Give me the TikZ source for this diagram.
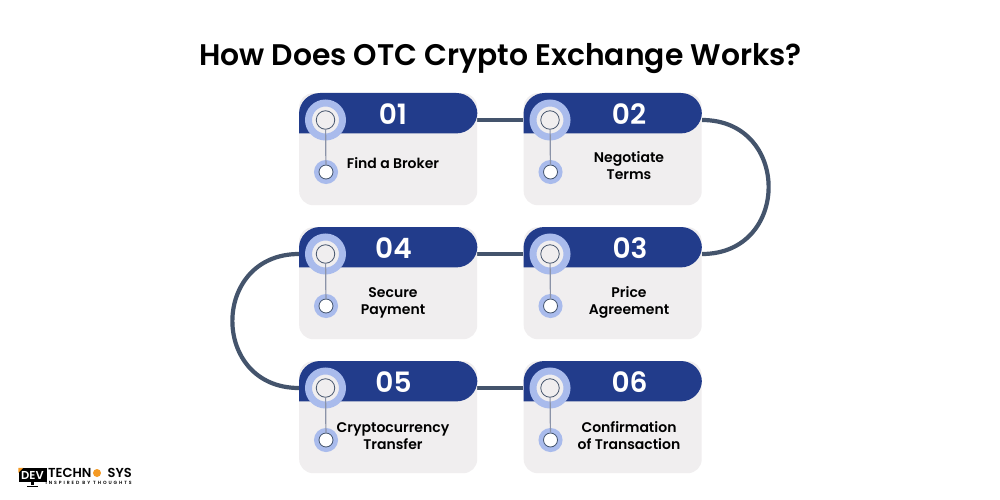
\documentclass[tikz,border=0pt]{standalone}
\usepackage{fontspec}
\setmainfont{Poppins}
\newfontfamily\titlefont{Poppins SemiBold}
\newfontfamily\tagfont[LetterSpace=42]{Poppins SemiBold}
\usetikzlibrary{calc}
\definecolor{headblue}{HTML}{223C8B}
\definecolor{cardgray}{HTML}{F0EEEF}
\definecolor{ringblue}{HTML}{A9BBEC}
\definecolor{linkgray}{HTML}{44546C}
\definecolor{stemgray}{HTML}{8B93A8}
\definecolor{logoorange}{HTML}{F59A23}
\tikzset{
  cardbody/.style={fill=cardgray, rounded corners=14pt, minimum width=178pt, minimum height=112pt, inner sep=0pt},
  headbox/.style={minimum width=178pt, minimum height=40pt, inner sep=0pt},
  bigring/.style={circle, fill=cardgray, draw=ringblue, line width=7pt, minimum size=34pt, inner sep=0pt},
  bigcore/.style={circle, draw=linkgray, line width=0.8pt, minimum size=18.5pt, inner sep=0pt},
  smallring/.style={circle, fill=white, draw=ringblue, line width=5pt, minimum size=19pt, inner sep=0pt},
  smallcore/.style={circle, draw=linkgray, line width=0.8pt, minimum size=14pt, inner sep=0pt},
  numtext/.style={text=white, font=\titlefont\fontsize{28}{30}\selectfont},
  steptext/.style={text=black, align=center, font=\titlefont\fontsize{14}{17}\selectfont},
  linkline/.style={draw=linkgray, line width=4.2pt},
  stemline/.style={draw=stemgray, line width=1.2pt},
  logotext/.style={text=black, inner sep=0pt, font=\titlefont\fontsize{13}{13}\selectfont},
}
% one card: id, x, y of top left corner, x of number, number, x of label, y of label, label
\newcommand{\stepcard}[8]{
\node [cardbody, anchor=north west] (card#1) at (#2,#3) {};
\node [headbox, anchor=north west] (head#1) at (#2,#3) {};
\fill [headblue, rounded corners=21pt] (head#1.south west) -- (head#1.north west) -- (head#1.north east) -- (head#1.south east) [sharp corners] -- cycle;
\node [bigring] (ringa#1) at ($(card#1.north west)+(26.5,27)$) {};
\node [bigcore] (corea#1) at (ringa#1) {};
\node [smallring] (ringb#1) at ($(card#1.north west)+(27,79)$) {};
\node [smallcore] (coreb#1) at (ringb#1) {};
\draw [stemline] (corea#1) -- (coreb#1);
\node [numtext] (num#1) at (#4,#3+21) {#5};
\node [steptext] (label#1) at (#6,#7) {#8};
}
\begin{document}
\begin{tikzpicture}[x=1pt, y=-1pt]
\useasboundingbox [fill=white] (0,0) rectangle (1000,500);
\node [text=black, font=\titlefont\fontsize{29.8}{34}\selectfont] (title) at (500.5,58.5) {How Does OTC Crypto Exchange Works?};
% links go first, cards lie on top
\coordinate (p1) at (477,120);
\coordinate (p2) at (523,120);
\coordinate (p3) at (702,120);
\coordinate (p4) at (702,254);
\coordinate (p5) at (523,254);
\coordinate (p6) at (477,254);
\coordinate (p7) at (299,254);
\coordinate (p8) at (299,388);
\coordinate (p9) at (477,388);
\coordinate (p10) at (523,388);
\draw [linkline] (p1) -- (p2);
\draw [linkline] (p3) to [out=0, in=0, looseness=1.7] (p4);
\draw [linkline] (p5) -- (p6);
\draw [linkline] (p7) to [out=180, in=180, looseness=1.7] (p8);
\draw [linkline] (p9) -- (p10);
\stepcard{1}{299}{93}{393}{01}{393}{163.5}{Find a Broker}
\stepcard{2}{523.5}{93}{629}{02}{629}{166}{Negotiate\\Terms}
\stepcard{3}{523.5}{227}{630}{03}{629}{302.5}{Price\\Agreement}
\stepcard{4}{299}{227}{393.5}{04}{393}{302.5}{Secure\\Payment}
\stepcard{5}{299}{361}{393.5}{05}{393}{436}{Cryptocurrency\\Transfer}
\stepcard{6}{523.5}{361}{629.5}{06}{629}{436}{Confirmation\\of Transaction}
% logo
\node [fill=black, text=white, minimum width=28pt, minimum height=14pt, inner sep=0pt, font=\titlefont\fontsize{11.5}{12}\selectfont] (logodev) at (32.5,475) {DEV};
\fill [logoorange] (logodev.north west) -- ++(5,0) -- ++(-5,5) -- cycle;
\node [fill=black, minimum width=3pt, minimum height=3pt, inner sep=0pt, below=0pt] (logoneck) at (logodev.south) {};
\node [fill=black, minimum width=11pt, minimum height=1.5pt, inner sep=0pt, below=0pt] (logofoot) at (logoneck.south) {};
\node [logotext, anchor=west] (logotech) at (48,473) {TECHN};
\node [circle, fill=logoorange, minimum size=8pt, inner sep=0pt] (logonut) at (97,473) {};
\node [logotext, anchor=east] (logosys) at (132,473) {SYS};
\node [text=black, anchor=east, inner sep=0pt, font=\tagfont\fontsize{4.6}{5}\selectfont] (logotag) at (132,482.5) {INSPIRED BY THOUGHTS};
\end{tikzpicture}
\end{document}
